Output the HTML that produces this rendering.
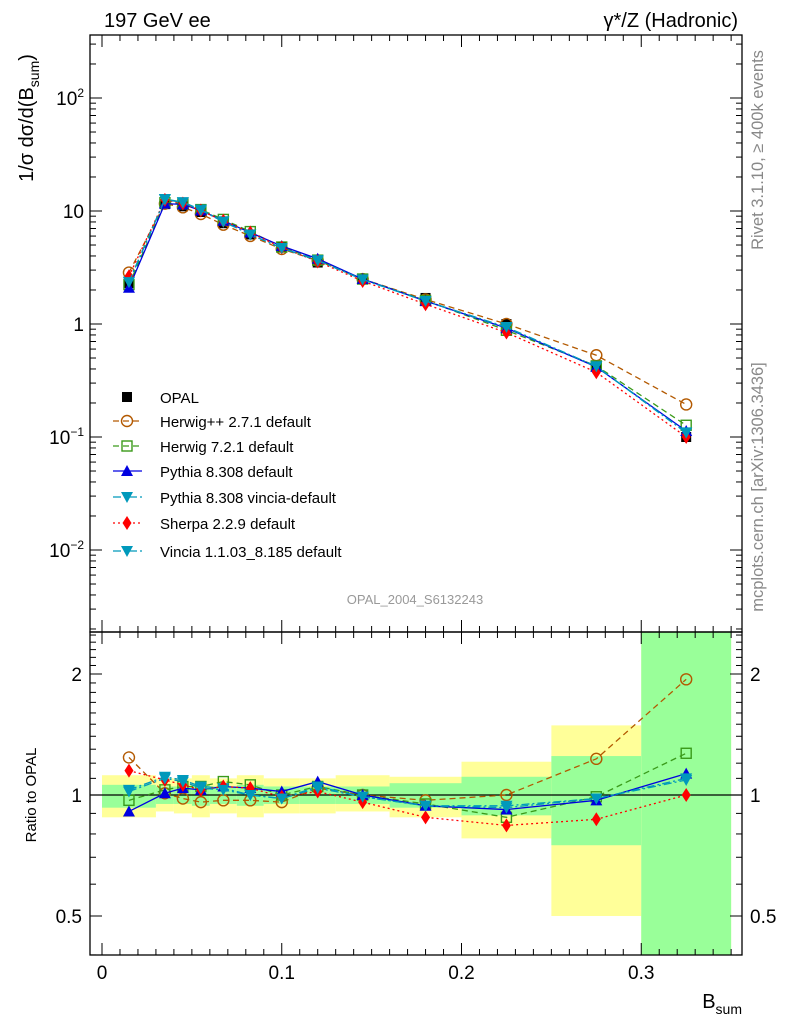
<!DOCTYPE html>
<html><head><meta charset="utf-8"><style>
body{margin:0;background:#fff}
svg text{font-family:"Liberation Sans",sans-serif}
</style></head><body>
<svg id="c" width="786" height="1024" xmlns="http://www.w3.org/2000/svg"></svg>
<script>
const xPts=[0.015,0.035,0.045,0.055,0.0675,0.0825,0.1,0.12,0.145,0.18,0.225,0.275,0.325];
const binEdges=[0,0.03,0.04,0.05,0.06,0.075,0.09,0.11,0.13,0.16,0.2,0.25,0.3,0.35];
const opal=[2.3,11.5,11,9.8,7.8,6.2,4.8,3.5,2.5,1.7,1.0,0.43,0.1];
const bandYellowLo=[0.88,0.91,0.9,0.88,0.9,0.88,0.9,0.9,0.91,0.88,0.78,0.5,0.3];
const bandYellowHi=[1.12,1.1,1.1,1.12,1.1,1.12,1.1,1.1,1.12,1.11,1.21,1.49,3];
const bandGreenLo=[0.93,0.95,0.95,0.94,0.95,0.94,0.95,0.95,0.95,0.93,0.89,0.75,0.3];
const bandGreenHi=[1.06,1.05,1.05,1.06,1.05,1.06,1.05,1.05,1.05,1.07,1.11,1.25,3];
const rHerwigPP=[1.24,1.01,0.98,0.96,0.97,0.97,0.96,1.04,1.0,0.97,1.0,1.23,1.94];
const rHerwig7=[0.97,1.03,1.05,1.05,1.08,1.06,1.0,1.05,1.0,0.95,0.88,0.99,1.27];
const rPythia=[0.91,1.01,1.04,1.03,1.05,1.04,1.02,1.08,1.0,0.94,0.92,0.97,1.13];
const rVinciaDef=[1.03,1.11,1.09,1.05,1.04,1.0,0.98,1.05,0.99,0.94,0.93,0.98,1.10];
const rSherpa=[1.15,1.09,1.06,1.03,1.05,1.04,0.99,1.02,0.96,0.88,0.84,0.87,1.0];
const rVincia11=[1.02,1.1,1.08,1.04,1.03,1.0,0.98,1.04,0.99,0.94,0.94,0.98,1.09];
const mainTicks=[[2,"10<tspan dy='-8' font-size='12'>2</tspan>"],[1,"10"],[0,"1"],[-1,"10<tspan dy='-8' font-size='12'>−1</tspan>"],[-2,"10<tspan dy='-8' font-size='12'>−2</tspan>"]];
const ratioTicks=[2,1,0.5];
const xTicks=[0,0.1,0.2,0.3];

const S=document.getElementById('c');const NS='http://www.w3.org/2000/svg';
function el(t,a,p){const e=document.createElementNS(NS,t);for(const k in a)e.setAttribute(k,a[k]);(p||S).appendChild(e);return e;}
const X=v=>102+v*1797.5;
const YM=v=>324-113*Math.log10(v);
const YR=v=>795-121*Math.log2(v);
const L=90,R=742,T1=35,B1=632,T2=632,B2=955;

const gb=el('g',{});
function clampR(v){return Math.min(Math.max(YR(v),T2),B2);}
for(let i=0;i<xPts.length;i++){
 const r1=el('rect',{x:X(binEdges[i]),width:X(binEdges[i+1])-X(binEdges[i]),y:clampR(bandYellowHi[i]),height:clampR(bandYellowLo[i])-clampR(bandYellowHi[i]),fill:'#ffff99'},gb);
 
 const r2=el('rect',{x:X(binEdges[i]),width:X(binEdges[i+1])-X(binEdges[i]),y:clampR(bandGreenHi[i]),height:clampR(bandGreenLo[i])-clampR(bandGreenHi[i]),fill:'#99ff99'},gb);
 
}
el('line',{x1:L,x2:R,y1:YR(1),y2:YR(1),stroke:'#000','stroke-width':1.2});

el('rect',{x:L,y:T1,width:R-L,height:B1-T1,fill:'none',stroke:'#000','stroke-width':1.3});
el('rect',{x:L,y:T2,width:R-L,height:B2-T2,fill:'none',stroke:'#000','stroke-width':1.3});
for(let d=-3;d<=2;d++){for(let m=1;m<10;m++){const v=m*Math.pow(10,d);const y=YM(v);if(y<T1||y>B1)continue;const len=m==1?12:6;
 el('line',{x1:L,x2:L+len,y1:y,y2:y,stroke:'#000'});el('line',{x1:R,x2:R-len,y1:y,y2:y,stroke:'#000'});}}
mainTicks.forEach(t=>{const tx=el('text',{x:L-6,y:YM(Math.pow(10,t[0]))+7,'text-anchor':'end','font-size':19});tx.innerHTML=t[1];
 });
for(let v=0.4;v<=2.6;v+=0.1){const y=YR(v);if(y<T2||y>B2)continue;const maj=Math.abs(v-0.5)<1e-6||Math.abs(v-1)<1e-6||Math.abs(v-2)<1e-6;const len=maj?12:6;
 el('line',{x1:L,x2:L+len,y1:y,y2:y,stroke:'#000'});el('line',{x1:R,x2:R-len,y1:y,y2:y,stroke:'#000'});}
ratioTicks.forEach(v=>{const a=el('text',{x:L-8,y:YR(v)+7,'text-anchor':'end','font-size':19});a.textContent=v;
 
 const b=el('text',{x:R+8,y:YR(v)+7,'font-size':19});b.textContent=v;});
for(let k=0;k<=35;k++){const v=k/100;const x=X(v);const maj=k%10==0;const len=maj?12:6;
 [[B1,-1],[T1,1],[B2,-1],[T2,1]].forEach(([y,s])=>el('line',{x1:x,x2:x,y1:y,y2:y+s*len,stroke:'#000'}));}
xTicks.forEach(v=>{const t=el('text',{x:X(v),y:979,'text-anchor':'middle','font-size':19});t.textContent=v;
 });

const series=[
 {n:'herwigpp',r:rHerwigPP,c:'#b35900',d:'6,4',m:'circle',lab:'Herwig++ 2.7.1 default'},
 {n:'herwig7',r:rHerwig7,c:'#3a9a1a',d:'6,4',m:'square',lab:'Herwig 7.2.1 default'},
 {n:'pythia',r:rPythia,c:'#0000e0',d:'',m:'up',lab:'Pythia 8.308 default'},
 {n:'vincia-default',r:rVinciaDef,c:'#0099bb',d:'8,3,2,3',m:'down',lab:'Pythia 8.308 vincia-default'},
 {n:'sherpa',r:rSherpa,c:'#ff0000',d:'2,3',m:'diamond',lab:'Sherpa 2.2.9 default'},
 {n:'vincia11',r:rVincia11,c:'#0099bb',d:'8,3,2,3',m:'down',lab:'Vincia 1.1.03_8.185 default'}];
function marker(g,m,x,y,c){
 if(m=='circle')el('circle',{cx:x,cy:y,r:5.5,fill:'none',stroke:c,'stroke-width':1.4},g);
 else if(m=='square')el('rect',{x:x-5,y:y-5,width:10,height:10,fill:'none',stroke:c,'stroke-width':1.4},g);
 else if(m=='up')el('polygon',{points:`${x-6},${y+5} ${x+6},${y+5} ${x},${y-6}`,fill:c},g);
 else if(m=='down')el('polygon',{points:`${x-6},${y-5} ${x+6},${y-5} ${x},${y+6}`,fill:c},g);
 else if(m=='diamond')el('polygon',{points:`${x},${y-7} ${x+4.5},${y} ${x},${y+7} ${x-4.5},${y}`,fill:c},g);
 else if(m=='sq')el('rect',{x:x-5,y:y-5,width:10,height:10,fill:c},g);
}
const gd=el('g',{});
series.forEach(s=>{
 const g=el('g',{});
 const pm=xPts.map((x,i)=>X(x)+','+YM(opal[i]*s.r[i])).join(' ');
 const pr=xPts.map((x,i)=>X(x)+','+YR(s.r[i])).join(' ');
 el('polyline',{points:pm,fill:'none',stroke:s.c,'stroke-width':1.3,'stroke-dasharray':s.d},g);
 el('polyline',{points:pr,fill:'none',stroke:s.c,'stroke-width':1.3,'stroke-dasharray':s.d},g);
 xPts.forEach((x,i)=>{marker(g,s.m,X(x),YM(opal[i]*s.r[i]),s.c);marker(g,s.m,X(x),YR(s.r[i]),s.c);});
});
xPts.forEach((x,i)=>marker(gd,'sq',X(x),YM(opal[i]),'#000'));

const lg=el('g',{});
const ly=[397,421,446,471,497,523,551];
marker(lg,'sq',127,ly[0],'#000');
let t0=el('text',{x:160,y:ly[0]+6,'font-size':15},lg);t0.textContent='OPAL';
series.forEach((s,i)=>{const y=ly[i+1];
 el('line',{x1:113,x2:142,y1:y,y2:y,stroke:s.c,'stroke-width':1.3,'stroke-dasharray':s.d},lg);
 marker(lg,s.m,127,y,s.c);
 const t=el('text',{x:160,y:y+6,'font-size':15},lg);t.textContent=s.lab;
 });

function txt(name,attrs,html){const t=el('text',attrs);t.innerHTML=html;return t;}
txt('title-left',{x:104,y:27,'font-size':20},'197 GeV ee');
txt('title-right',{x:738,y:27,'font-size':20,'text-anchor':'end'},'γ*/Z (Hadronic)');
txt('y-axis-title',{transform:'translate(33,118) rotate(-90)','font-size':20,'text-anchor':'middle'},"1/σ dσ/d(B<tspan dy='6' font-size='14'>sum</tspan><tspan dy='-6'>)</tspan>");
txt('ratio-axis-title',{transform:'translate(36,795) rotate(-90)','font-size':15,'text-anchor':'middle'},'Ratio to OPAL');
txt('x-axis-title',{x:742,y:1008,'font-size':20,'text-anchor':'end'},"B<tspan dy='6' font-size='14'>sum</tspan>");
txt('analysis-id',{x:415,y:604,'font-size':13,'text-anchor':'middle',fill:'#999'},'OPAL_2004_S6132243');
txt('rivet-label',{transform:'translate(763,150) rotate(-90)','font-size':16.5,'text-anchor':'middle',fill:'#888'},'Rivet 3.1.10, ≥ 400k events');
txt('mcplots-label',{transform:'translate(763,487) rotate(-90)','font-size':16.5,'text-anchor':'middle',fill:'#888'},'mcplots.cern.ch [arXiv:1306.3436]');
</script>
</body></html>
